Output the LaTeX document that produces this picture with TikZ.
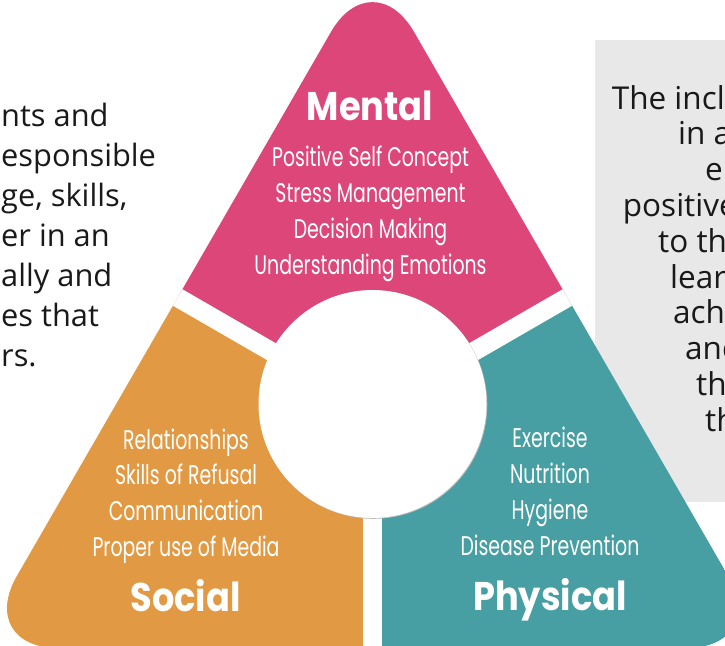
\documentclass[tikz,border=0pt]{standalone}
\usepackage{fontspec}
\setmainfont{Open Sans}
\newfontfamily\headfont[FakeStretch=0.88]{Poppins}
\newfontfamily\listfont[FakeStretch=0.7]{Poppins}
\usetikzlibrary{positioning}
\definecolor{mentalpink}{HTML}{DC4679}
\definecolor{socialorange}{HTML}{E19A43}
\definecolor{physicalteal}{HTML}{489FA3}
\definecolor{boxgray}{HTML}{E7E8E7}
\tikzstyle{heading} = [anchor=base, 
inner sep=0pt, 
text=white, 
font=\headfont\bfseries\fontsize{40}{40}\selectfont]
\tikzstyle{items} = [anchor=base, 
inner sep=0pt, 
align=center, 
text=white, 
font=\listfont\fontsize{27}{35.8}\selectfont]
\tikzstyle{sidetext} = [anchor=base west, 
inner sep=0pt, 
text=black!90, 
font=\fontsize{31.5}{36}\selectfont]
\tikzstyle{lefttext} = [sidetext, 
align=left, 
font=\fontsize{30.8}{40}\selectfont]
\tikzstyle{gap} = [white, line width=19pt]

\begin{document}
\begin{tikzpicture}[x=1pt, y=-1pt]
\useasboundingbox (0,0) rectangle (725,645);

% grijs vak rechts
\fill[boxgray] (595,40) rectangle (730,502);

% driehoek in drie delen
\begin{scope}
\clip[rounded corners=83pt] (372.5,-40) -- (769.7,648) -- (-24.7,648) -- cycle;
\fill[mentalpink] (372.5,410) -- (-147,110) -- (-147,-200) -- (892,-200) -- (892,110) -- cycle;
\fill[socialorange] (372.5,410) -- (-147,110) -- (-147,800) -- (372.5,800) -- cycle;
\fill[physicalteal] (372.5,410) -- (892,110) -- (892,800) -- (372.5,800) -- cycle;
\draw[gap] (372.5,410) -- (-147,110);
\draw[gap] (372.5,410) -- (892,110);
\draw[gap] (372.5,410) -- (372.5,800);
\end{scope}

% cirkel in het midden
\fill[gray!55] (373.3,404.8) circle[radius=114pt];
\fill[white] (372.5,404) circle[radius=114pt];

\node (mental) [heading] at (370,120.7) {Mental};
\node (mentalitems) [items] at (370.5,274) {Positive Self Concept\\ Stress Management\\ Decision Making\\ Understanding Emotions};

\node (socialitems) [items] at (186,556.5) {Relationships\\ Skills of Refusal\\ Communication\\ Proper use of Media};
\node (social) [heading] at (185.5,611.7) {Social};

\node (physicalitems) [items] at (550,555) {Exercise\\ Nutrition\\ Hygiene\\ Disease Prevention};
\node (physical) [heading] at (550,610) {Physical};

% tekst links
\node (lefttext) [lefttext] at (1,366.5) {nts and\\ esponsible\\ ge, skills,\\ er in an\\ ally and\\ es that\\ rs.};

% tekst rechts
\node (rline1) [sidetext] at (611.7,109) {The incl};
\node (rline2) [sidetext] at (678,144.8) {in a};
\node (rline3) [sidetext] at (705,180.6) {e};
\node (rline4) [sidetext] at (622.7,216.4) {positive};
\node (rline5) [sidetext] at (658,252.2) {to th};
\node (rline6) [sidetext] at (670,288) {learn};
\node (rline7) [sidetext] at (673,323.8) {ach};
\node (rline8) [sidetext] at (685,359.6) {and};
\node (rline9) [sidetext] at (696,395.4) {th};
\node (rline10) [sidetext] at (705,431.2) {th};

\end{tikzpicture}
\end{document}
